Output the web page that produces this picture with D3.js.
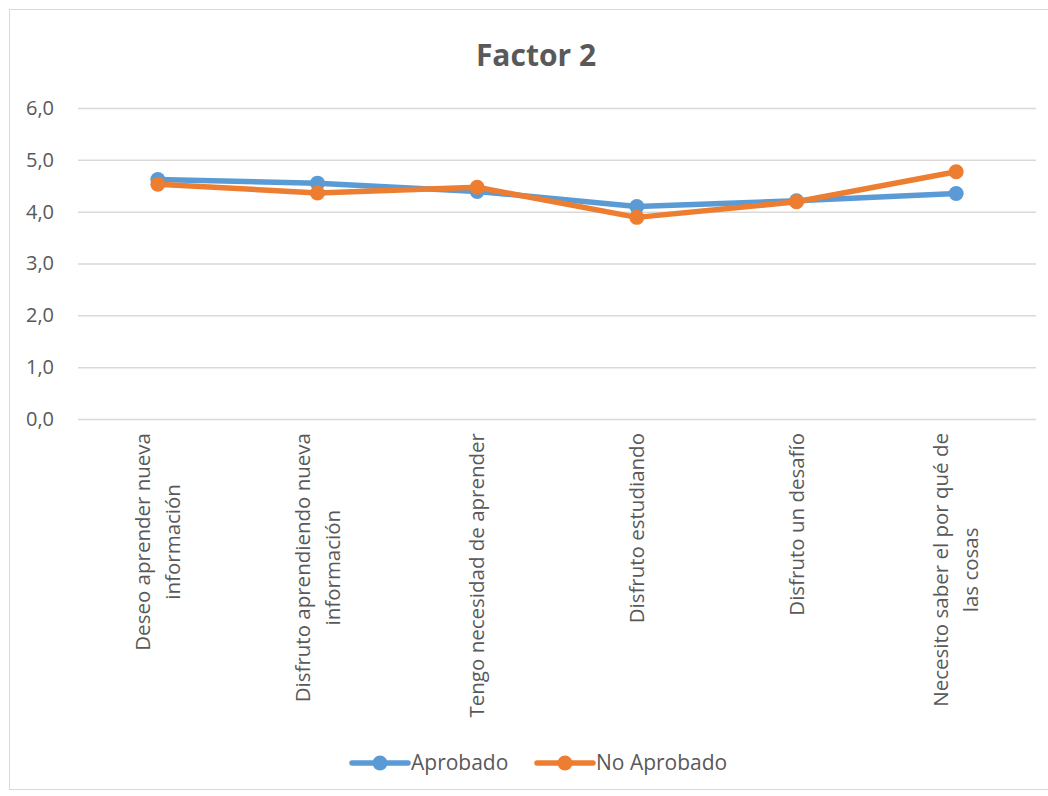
<!DOCTYPE html>
<html>
<head>
<meta charset="utf-8">
<script src="https://cdn.jsdelivr.net/npm/d3@7"></script>
<style>
  body { margin: 0; background: #fff; }
  svg { display: block; font-family: "Open Sans", sans-serif; }
</style>
</head>
<body>
<svg id="chart"></svg>
<script>
// data
const categories = [
  ["Deseo aprender nueva", "información"],
  ["Disfruto aprendiendo nueva", "información"],
  ["Tengo necesidad de aprender"],
  ["Disfruto estudiando"],
  ["Disfruto un desafío"],
  ["Necesito saber el por qué de", "las cosas"]
];
const aprobado = [4.62, 4.55, 4.39, 4.10, 4.21, 4.35];
const noAprobado = [4.53, 4.36, 4.47, 3.89, 4.19, 4.77];
const yTicks = [0, 1, 2, 3, 4, 5, 6];
const seriesNames = ["Aprobado", "No Aprobado"];
const seriesColors = ["#5b9bd5", "#ed7d31"];

const w = 1048;
const h = 796;
const margin = { top: 108, right: 12, bottom: 377, left: 78 };

const svg = d3.select("#chart").attr("width", w).attr("height", h);

// outer chart border
svg.append("rect")
  .attr("x", 9.5).attr("y", 9.5)
  .attr("width", w).attr("height", 780)
  .attr("fill", "#fff")
  .attr("stroke", "#d9d9d9");

// title
svg.append("text")
  .attr("x", 536).attr("y", 66)
  .attr("text-anchor", "middle")
  .attr("font-size", 30)
  .attr("font-weight", "bold")
  .attr("fill", "#595959")
  .text("Factor 2");

const xScale = d3.scalePoint()
  .domain(d3.range(categories.length))
  .range([margin.left, w - margin.right])
  .padding(0.5);

const yScale = d3.scaleLinear()
  .domain([0, 6])
  .range([h - margin.bottom, margin.top]);

//gridlines + y labels
const yAxis = d3.axisLeft(yScale)
  .tickValues(yTicks)
  .tickSize(-(w - margin.right - margin.left))
  .tickPadding(24)
  .tickFormat((d) => d3.format(".1f")(d).replace(".", ","));

const gy = svg.append("g")
  .attr("transform", `translate(${margin.left},0)`)
  .call(yAxis);
gy.select(".domain").remove();
gy.selectAll(".tick line").attr("stroke", "#d9d9d9").attr("stroke-width", 1.5);
gy.selectAll(".tick text")
  .attr("font-size", 20)
  .attr("fill", "#595959")
  .attr("font-family", "Open Sans, sans-serif");

// category labels, rotated, lines centred on each other
const lineH = 30;
const labelTop = h - margin.bottom + 14;
const labels = svg.append("g")
  .selectAll("text")
  .data(categories)
  .enter()
  .append("text")
  .attr("text-anchor", "middle")
  .attr("font-size", 20.5)
  .attr("fill", "#595959");
labels.each(function (d, i) {
  const t = d3.select(this);
  d.forEach((line, k) => {
    t.append("tspan")
      .attr("x", 0)
      .attr("y", (k - (d.length - 1) / 2) * lineH)
      .attr("dy", "0.35em")
      .text(line);
  });
  const maxLen = d3.max(t.selectAll("tspan").nodes(), (n) => n.getComputedTextLength());
  t.attr("transform", `translate(${xScale(i)},${labelTop + maxLen / 2}) rotate(-90)`);
});

// lines + markers
const series = [aprobado, noAprobado];
const line = d3.line()
  .x((d, i) => xScale(i))
  .y((d) => yScale(d));

series.forEach((vals, s) => {
  svg.append("path")
    .datum(vals)
    .attr("fill", "none")
    .attr("stroke", seriesColors[s])
    .attr("stroke-width", 5.5)
    .attr("stroke-linejoin", "round")
    .attr("d", line);
  svg.append("g")
    .selectAll("circle")
    .data(vals)
    .enter()
    .append("circle")
    .attr("cx", (d, i) => xScale(i))
    .attr("cy", (d) => yScale(d))
    .attr("r", 7.5)
    .attr("fill", seriesColors[s]);
});

// legend
const legendX = [352, 537];
const legendY = 763;
seriesNames.forEach((name, s) => {
  const g = svg.append("g").attr("transform", `translate(${legendX[s]},${legendY})`);
  g.append("line")
    .attr("x1", 0).attr("x2", 56)
    .attr("stroke", seriesColors[s])
    .attr("stroke-width", 5.5)
    .attr("stroke-linecap", "round");
  g.append("circle").attr("cx", 28).attr("r", 7.5).attr("fill", seriesColors[s]);
  g.append("text")
    .attr("x", 59)
    .attr("dy", "0.35em")
    .attr("font-size", 21)
    .attr("fill", "#595959")
    .text(name);
});
</script>
</body>
</html>
